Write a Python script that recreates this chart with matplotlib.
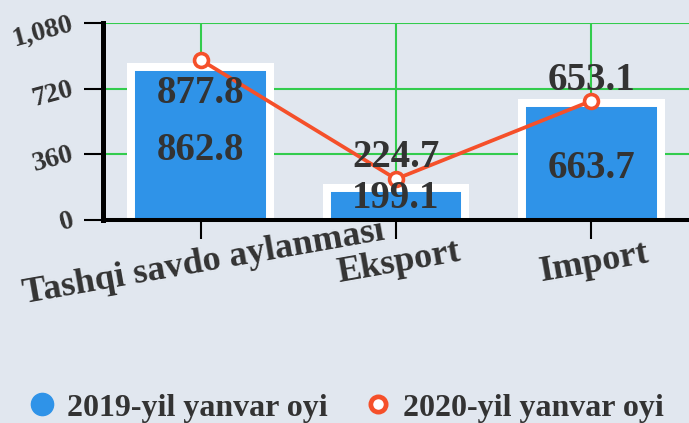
import matplotlib
matplotlib.use("Agg")
import matplotlib.pyplot as plt
from matplotlib.lines import Line2D

categories = ["Tashqi savdo aylanmasi", "Eksport", "Import"]
values_2019 = [862.8, 199.1, 663.7]
values_2020 = [877.8, 224.7, 653.1]
yticks = [0, 360, 720, 1080]
ytick_labels = ["0", "360", "720", "1,080"]
series_names = ["2019-yil yanvar oyi", "2020-yil yanvar oyi"]

BLUE = "#2f93e8"
RED = "#f5502a"
GREEN = "#33cc4d"
TEXT = "#333333"
BG = "#e1e7ef"

# label offsets in points (baseline placement)
bar_label_dy = [-13.4, -4.5, -13.3]
line_label_dy = [-31, 8.6, 7.8]

plt.rcParams["font.family"] = ["Liberation Serif", "DejaVu Serif"]
plt.rcParams["font.weight"] = "bold"

fig = plt.figure(figsize=(6.89, 4.23), dpi=100, facecolor=BG)
ax = fig.add_axes([103 / 689, 1 - 220 / 423, 586 / 689, 197 / 423])
ax.set_facecolor("none")

x = list(range(len(categories)))
bars = ax.bar(x, values_2019, width=0.75, color=BLUE, zorder=2)

# white frame drawn inside each bar (left, top, right sides)
for b in bars:
    x0, w, h = b.get_x(), b.get_width(), b.get_height()
    frame = Line2D([x0, x0, x0 + w, x0 + w], [0, h, h, 0], color="white",
                   lw=11.5, solid_joinstyle="miter", zorder=2.5)
    ax.add_line(frame)
    frame.set_clip_path(b)

ax.plot(x, values_2020, color=RED, lw=2.7, marker="o", markersize=10,
        markerfacecolor="white", markeredgecolor=RED, markeredgewidth=2.6,
        zorder=4)

for i, v in enumerate(values_2019):
    ax.annotate(f"{v:.1f}", (x[i], v / 2), xytext=(0, bar_label_dy[i]),
                textcoords="offset points", ha="center", va="baseline",
                fontsize=28, fontweight="bold", color=TEXT, zorder=5)
for i, v in enumerate(values_2020):
    ax.annotate(f"{v:.1f}", (x[i], v), xytext=(0, line_label_dy[i]),
                textcoords="offset points", ha="center", va="baseline",
                fontsize=28, fontweight="bold", color=TEXT, zorder=5)

ax.set_xlim(-0.5, 2.5)
ax.set_ylim(0, 1080)
ax.set_yticks(yticks)
ax.set_yticklabels(ytick_labels, fontsize=20, color=TEXT, rotation=15,
                   ha="right", va="center", rotation_mode="anchor")
ax.set_xticks(x)
ax.set_xticklabels(categories, fontsize=26, color=TEXT, rotation=10,
                   ha="center", va="top", rotation_mode="anchor")

ax.set_axisbelow(True)
ax.grid(True, color=GREEN, lw=1.5)
for s in ["top", "right"]:
    ax.spines[s].set_visible(False)
ax.spines["left"].set_linewidth(3.6)
ax.spines["bottom"].set_linewidth(2.9)
ax.tick_params(axis="y", length=13.5, width=1.5, pad=8)
ax.tick_params(axis="x", length=14, width=1.5, pad=5.5)

handles = [
    Line2D([], [], ls="none", marker="o", markersize=16, color=BLUE),
    Line2D([], [], ls="none", marker="o", markersize=11, markerfacecolor="white",
           markeredgecolor=RED, markeredgewidth=3.4),
]
fig.legend(handles, series_names, loc="center", bbox_to_anchor=(0.502, 0.0355),
           ncol=2, frameon=False, fontsize=23, handlelength=0.9,
           handletextpad=0.33, columnspacing=1.14, borderpad=0,
           labelcolor=TEXT)

fig.savefig("out.png", dpi=100, facecolor=BG)
